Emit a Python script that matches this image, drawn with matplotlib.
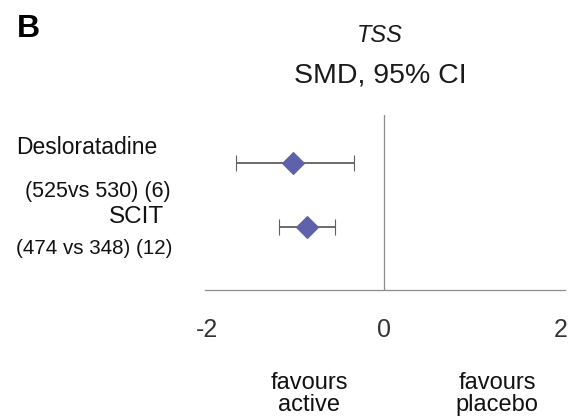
import matplotlib.pyplot as plt

plt.rcParams['font.family'] = ['Liberation Sans', 'DejaVu Sans']
plt.rcParams['axes.unicode_minus'] = False

# data (SMD, 95% CI)
treatments = ['Desloratadine', 'SCIT']
counts = ['(525vs 530) (6)', '(474 vs 348) (12)']
smd = [-1.02, -0.86]
ci_low = [-1.67, -1.18]
ci_high = [-0.33, -0.55]
rows = [2, 1]
xticks = [-2, 0, 2]

fig = plt.figure(figsize=(5.72, 4.19), dpi=100)
ax = fig.add_axes([0.358, 0.308, 0.63, 0.418])

err_lo = [m - l for m, l in zip(smd, ci_low)]
err_hi = [h - m for m, h in zip(smd, ci_high)]
ax.errorbar(smd, rows, xerr=[err_lo, err_hi], fmt='D', color='#5f61ab',
            markersize=11, markeredgewidth=0.8, ecolor='#606060',
            elinewidth=1.3, capsize=6, capthick=1.3)
ax.axvline(0, color='#8c8c8c', lw=0.9)

ax.set_xlim(-2.02, 2.05)
ax.set_ylim(0.02, 2.75)
ax.set_xticks(xticks)
ax.set_xticklabels([str(t) for t in xticks], fontsize=18, color='#333333')
ax.tick_params(axis='x', length=0, pad=20)
ax.set_yticks([])
for s in ['top', 'right', 'left']:
    ax.spines[s].set_visible(False)
ax.spines['bottom'].set_color('#8c8c8c')
ax.spines['bottom'].set_linewidth(0.9)

W, H = 572, 419
def ftxt(x, y, s, **kw):
    fig.text(x / W, 1 - y / H, s, ha='center', va='center', **kw)

ftxt(28, 29, 'B', fontsize=23, fontweight='bold')
ftxt(380, 35, 'TSS', fontsize=17, fontstyle='italic', color='#1a1a1a')
ftxt(380, 75, 'SMD, 95% CI', fontsize=20.5, color='#1a1a1a')

ftxt(87, 147, treatments[0], fontsize=16.5, color='#111111')
ftxt(98, 192, counts[0], fontsize=15.5, color='#111111')
ftxt(136, 217, treatments[1], fontsize=17.5, color='#111111')
ftxt(94, 248, counts[1], fontsize=14.8, color='#111111')

ftxt(309, 394, 'favours\nactive', fontsize=17, color='#111111', linespacing=1.0)
ftxt(497, 394, 'favours\nplacebo', fontsize=17, color='#111111', linespacing=1.0)

fig.savefig('out.png', dpi=100)
